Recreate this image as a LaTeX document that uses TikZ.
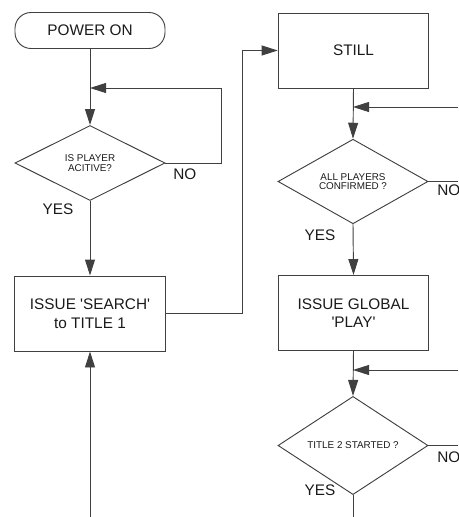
\documentclass[tikz,border=0pt]{standalone}
\usepackage{fontspec}
\setmainfont{Liberation Sans}
\usepackage{tikz}
\usepackage{xcolor}
\usetikzlibrary{arrows.meta,shapes.geometric}
\definecolor{cL}{HTML}{404040}
\definecolor{cT}{HTML}{1a1a1a}
\tikzset{
  term/.style={rectangle,rounded corners=12pt,draw=cL,line width=0.7pt,minimum width=112.5pt,minimum height=27pt,inner sep=0pt,font=\fontsize{11.5}{14}\selectfont,text=cT,align=center},
  box/.style={rectangle,draw=cL,line width=0.7pt,minimum width=113pt,minimum height=56.25pt,inner sep=0pt,font=\fontsize{11.5}{14}\selectfont,text=cT,align=center},
  ask/.style={diamond,draw=cL,line width=0.7pt,minimum width=112.5pt,minimum height=56.25pt,inner sep=0pt,font=\fontsize{7.4}{7.2}\selectfont,text=cT,align=center},
  lbl/.style={inner sep=0pt,font=\fontsize{11.5}{14}\selectfont,text=cT},
  flow/.style={-{Triangle[length=12pt,width=7.5pt]},line width=0.7pt,cL},
  wire/.style={line width=0.7pt,cL},
}
\newcommand{\sq}{\textquotesingle}

\begin{document}
\begin{tikzpicture}[x=0.75pt,y=-0.75pt]
  \useasboundingbox (0,0) rectangle (458,517);
  \clip (0,0) rectangle (458,517);
  % left column
  \node[term] (power) at (90,30.5) {POWER ON};
  \node[ask] (ask1) at (90,163) {IS PLAYER\\ACITIVE?};
  \node[box] (search) at (90,313.5) {ISSUE \sq SEARCH\sq\\to TITLE 1};
  % right column
  \node[box] (still) at (353.5,50.5) {STILL};
  \node[ask] (ask2) at (353,181.5) {ALL PLAYERS\\CONFIRMED ?};
  \node[box] (play) at (353.5,313) {ISSUE GLOBAL\\\sq PLAY\sq};
  \node[ask] (ask3) at (353,445.5) {TITLE 2 STARTED ?};
  % answers
  \node[lbl,anchor=west] (no1) at (173,174) {NO};
  \node[lbl] (yes1) at (58,209.5) {YES};
  \node[lbl,anchor=west] (no2) at (437,190) {NO};
  \node[lbl] (yes2) at (320,235.5) {YES};
  \node[lbl,anchor=west] (no3) at (437,457) {NO};
  \node[lbl] (yes3) at (320,490) {YES};
  % joints and loose ends
  \coordinate (j1) at (90,88);
  \coordinate (r1) at (221,88);
  \coordinate (k1) at (242,50.5);
  \coordinate (b1) at (90,517);
  \coordinate (j2) at (353,107);
  \coordinate (e2) at (458,107);
  \coordinate (e3) at (458,181.5);
  \coordinate (j4) at (353,370);
  \coordinate (e4) at (458,370);
  \coordinate (e5) at (458,445.5);
  \coordinate (b2) at (353,517);
  % connectors
  \draw[flow] (power.south) -- (ask1.north);
  \draw[flow] (ask1.east) -| (r1) -- (j1);
  \draw[flow] (ask1.south) -- (search.north);
  \draw[flow] (b1) -- (search.south);
  \draw[flow] (search.east) -| (k1) -- (still.west);
  \draw[flow] (still.south) -- (ask2.north);
  \draw[flow] (e2) -- (j2);
  \draw[wire] (ask2.east) -- (e3);
  \draw[flow] (ask2.south) -- (play.north);
  \draw[flow] (play.south) -- (ask3.north);
  \draw[flow] (e4) -- (j4);
  \draw[wire] (ask3.east) -- (e5);
  \draw[wire] (ask3.south) -- (b2);
\end{tikzpicture}
\end{document}
